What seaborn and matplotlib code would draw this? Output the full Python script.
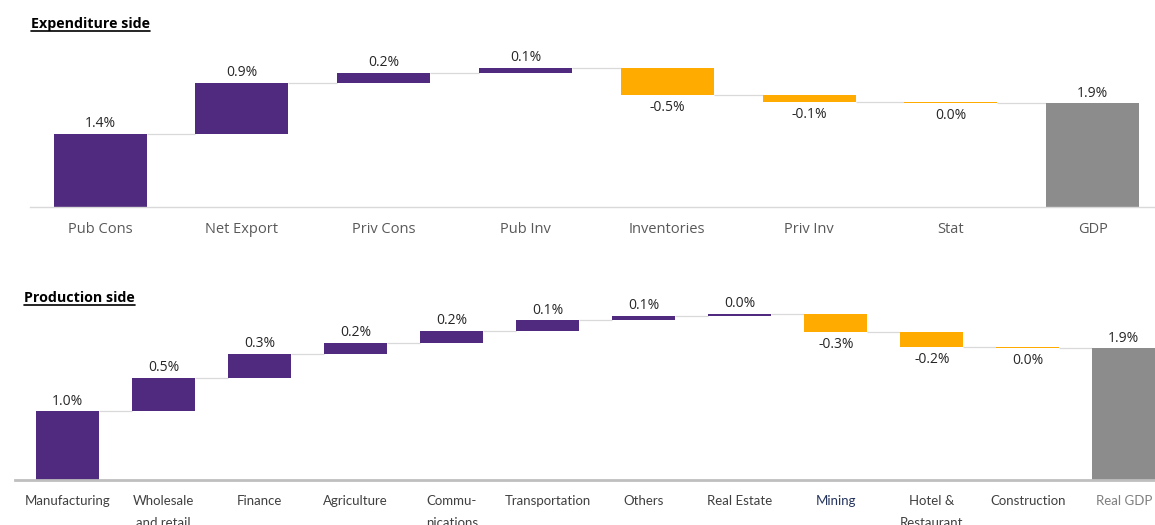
import matplotlib
matplotlib.use("Agg")
import matplotlib.pyplot as plt
from matplotlib.lines import Line2D
import seaborn as sns
import numpy as np
import pandas as pd

# ---------------- data ----------------
exp_categories = ["Pub Cons", "Net Export", "Priv Cons", "Pub Inv",
                  "Inventories", "Priv Inv", "Stat", "GDP"]
exp_values = [1.36, 0.94, 0.18, 0.09, -0.49, -0.13, -0.02]
exp_total = 1.92

prod_categories = ["Manufacturing", "Wholesale\nand retail", "Finance", "Agriculture",
                   "Commu-\nnications", "Transportation", "Others", "Real Estate",
                   "Mining", "Hotel &\nRestaurant", "Construction", "Real GDP"]
prod_values = [0.98, 0.48, 0.34, 0.16, 0.17, 0.15, 0.06, 0.03, -0.26, -0.21, -0.02]
prod_total = 1.88

PURPLE = "#4f2a7e"
ORANGE = "#ffab00"
GREY = "#8c8c8c"

sns.set_style("white")
plt.rcParams["font.family"] = ["Open Sans", "DejaVu Sans"]

fig = plt.figure(figsize=(11.55, 5.25), dpi=100)
W, H = 1155.0, 525.0


def fmt(v):
    r = round(v, 1)
    if r == 0:
        return "0.0%"
    return f"{r:.1f}%"


def waterfall(ax, cats, vals, total, width, tick_fs, tick_colors,
              spine_color, spine_lw, tick_pad, tick_font, linespacing=1.2):
    cum = np.concatenate([[0.0], np.cumsum(vals)])
    bottoms = list(cum[:-1]) + [0.0]
    heights = list(vals) + [total]
    colors = [PURPLE if v >= 0 else ORANGE for v in vals] + [GREY]
    df = pd.DataFrame({"cat": cats, "h": heights})
    sns.barplot(data=df, x="cat", y="h", order=cats, bottom=bottoms,
                color=PURPLE, width=width, errorbar=None, saturation=1,
                edgecolor="none", linewidth=0, ax=ax, zorder=2)
    for p, c in zip(ax.patches, colors):
        p.set_facecolor(c)
    # connector lines
    n = len(cats)
    levels = list(cum[1:])
    for i, lvl in enumerate(levels):
        ax.plot([i + width / 2, i + 1 - width / 2], [lvl, lvl],
                color="#d9d9d9", lw=0.9, zorder=1, solid_capstyle="butt")
    # value labels
    for i in range(n):
        v = heights[i]
        top = bottoms[i] + heights[i]
        if v >= 0:
            ax.annotate(fmt(v), (i, top), xytext=(0, 2), textcoords="offset points",
                        ha="center", va="bottom", fontsize=10, color="#262626")
        else:
            ax.annotate(fmt(v), (i, top), xytext=(0, -3.5), textcoords="offset points",
                        ha="center", va="top", fontsize=10, color="#262626")
    for s in ["top", "right", "left"]:
        ax.spines[s].set_visible(False)
    ax.spines["bottom"].set_color(spine_color)
    ax.spines["bottom"].set_linewidth(spine_lw)
    ax.set_yticks([])
    ax.set_xlabel("")
    ax.set_ylabel("")
    ax.tick_params(axis="x", length=0, pad=tick_pad, labelsize=tick_fs)
    for lab, c in zip(ax.get_xticklabels(), tick_colors):
        lab.set_color(c)
        lab.set_family(tick_font)
        lab.set_linespacing(linespacing)
    ax.patch.set_alpha(0)


# ---------- top panel ----------
ax1 = fig.add_axes([30 / W, (H - 207) / H, 8 * 141.7 / W, 162 / H])
waterfall(ax1, exp_categories, exp_values, exp_total, 0.656, 10.5,
          ["#595959"] * len(exp_categories), "#d9d9d9", 1.0, 10.5,
          ["Open Sans", "DejaVu Sans"])
ax1.set_xlim(-0.494, 7.5)
ax1.set_ylim(0, 3.0)

# ---------- bottom panel ----------
ax2 = fig.add_axes([15 / W, 45 / H, 12.05 * 96 / W, 189 / H])
prod_tick_colors = ["#404040"] * len(prod_categories)
prod_tick_colors[8] = "#26355e"
prod_tick_colors[-1] = "#7f7f7f"
waterfall(ax2, prod_categories, prod_values, prod_total, 0.66, 9.5,
          prod_tick_colors, "#bfbfbf", 2.0, 10.5,
          ["Lato", "DejaVu Sans"], linespacing=2.0)
ax2.set_xlim(-0.55, 11.5)
ax2.set_ylim(0, 2.7)

# ---------- titles (underlined) ----------
t1 = fig.text(31 / W, 1 - 24 / H, "Expenditure side", fontsize=10.3,
              fontweight="bold", ha="left", va="center", color="#000000")
t2 = fig.text(24 / W, 1 - 298 / H, "Production side", fontsize=10.3,
              fontweight="bold", ha="left", va="center", color="#000000")
fig.canvas.draw()
r = fig.canvas.get_renderer()
for t in (t1, t2):
    bb = t.get_window_extent(renderer=r)
    y = (bb.y0 + 0.5) / H
    fig.add_artist(Line2D([bb.x0 / W, bb.x1 / W], [y, y], color="black", lw=1.2,
                          transform=fig.transFigure))

fig.savefig("out.png", dpi=100)
